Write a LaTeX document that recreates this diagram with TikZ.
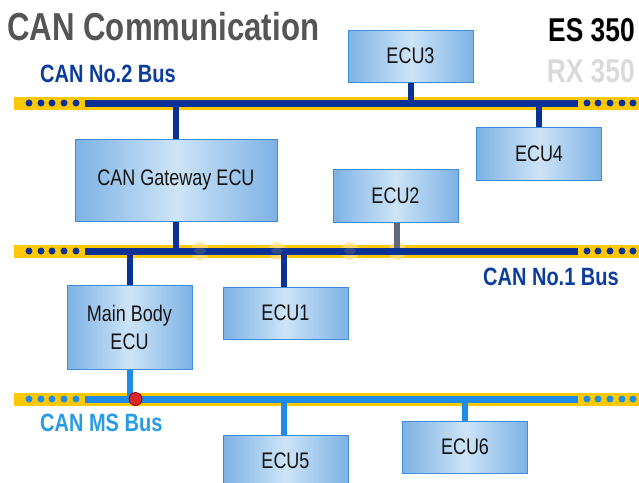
\documentclass[tikz,border=0pt]{standalone}
\usepackage{fontspec}
\setmainfont{Liberation Sans}
\newfontfamily\cond{Liberation Sans}[FakeStretch=0.8]
\definecolor{busyellow}{RGB}{255,200,0}
\definecolor{busdark}{RGB}{10,50,150}
\definecolor{buslight}{RGB}{30,140,230}
\definecolor{boxedge}{RGB}{60,140,225}
\definecolor{boxdark}{RGB}{125,178,228}
\definecolor{boxlight}{RGB}{205,228,247}
\definecolor{titlegray}{RGB}{85,85,85}
\definecolor{labdark}{RGB}{12,60,156}
\definecolor{lablight}{RGB}{40,155,232}
\definecolor{rxgray}{RGB}{218,218,218}
\definecolor{dotred}{RGB}{215,40,40}
\definecolor{fadelink}{RGB}{95,105,125}
\definecolor{glow}{RGB}{255,225,140}
\pgfdeclarelayer{bg}
\pgfsetlayers{bg,main}
\tikzset{
  ecu/.style={draw=boxedge, line width=1pt, left color=boxdark, right color=boxdark, middle color=boxlight,
    minimum width=125, minimum height=52, inner sep=0pt, align=center,
    font=\cond\fontsize{22.5}{26}\selectfont, text=black!92},
  darklink/.style={draw=busdark, line width=6pt},
  lightlink/.style={draw=buslight, line width=6pt},
  buslab/.style={font=\cond\bfseries\fontsize{25}{28}\selectfont, anchor=west, inner sep=0pt},
  busband/.style={fill=busyellow},
}
\begin{document}
\begin{tikzpicture}[x=1pt,y=-1pt]
\useasboundingbox (0,0) rectangle (639,482);
\clip (0,0) rectangle (639,482);
% bus coordinates
\coordinate (b2) at (0,103);
\coordinate (b1) at (0,251);
\coordinate (bm) at (0,399);
% boxes
\node[ecu] (ecu3) at (410.5,56) {ECU3};
\node[ecu, minimum height=53] (ecu4) at (539,153.5) {ECU4};
\node[ecu, minimum width=202, minimum height=82] (gw) at (176,180) {CAN Gateway ECU};
\node[ecu, minimum height=53] (ecu2) at (395.5,195.5) {ECU2};
\node[ecu, minimum height=84] (mb) at (129.5,327) {Main Body\\[2pt]ECU};
\node[ecu] (ecu1) at (285.5,313) {ECU1};
\node[ecu] (ecu5) at (285.5,461) {ECU5};
\node[ecu] (ecu6) at (465,447) {ECU6};
% titles
\node[anchor=west, inner sep=0pt, text=titlegray, font=\cond\bfseries\fontsize{39}{42}\selectfont] (title) at (7,27) {CAN Communication};
\node[anchor=east, inner sep=0pt, text=black, font=\cond\bfseries\fontsize{33}{36}\selectfont] (es) at (635,30) {ES 350};
\node[anchor=east, inner sep=0pt, text=rxgray, font=\cond\bfseries\fontsize{33}{36}\selectfont] (rx) at (635,71) {RX 350};
\node[buslab, text=labdark] (lab2) at (40,74) {CAN No.2 Bus};
\node[buslab, text=labdark] (lab1) at (483,277) {CAN No.1 Bus};
\node[buslab, text=lablight] (labm) at (40,423) {CAN MS Bus};
\begin{pgfonlayer}{bg}
  % yellow bands
  \foreach \c in {b2,b1,bm}{
    \fill[busband] ([yshift=-6.5]\c -| 14,0) rectangle ([yshift=6.5]\c -| 639,0);
  }
  % faint glows on bus 1
  \foreach \x in {200,277,350,397}{
    \fill[glow, opacity=0.7] (b1 -| \x,0) circle (9);
  }
  % connectors
  \draw[darklink] (ecu3.south) -- (ecu3.south |- b2);
  \draw[darklink] (ecu4.north) -- (ecu4.north |- b2);
  \draw[darklink] (gw.north) -- (gw.north |- b2);
  \draw[darklink] (gw.south) -- (gw.south |- b1);
  \draw[draw=fadelink, line width=6pt] ([xshift=1.5]ecu2.south) -- ([xshift=1.5]ecu2.south |- b1);
  \draw[darklink] (mb.north) -- (mb.north |- b1);
  \draw[darklink] ([xshift=-2]ecu1.north) -- ([xshift=-2]ecu1.north |- b1);
  \draw[lightlink] (mb.south) -- (mb.south |- bm);
  \draw[lightlink] ([xshift=-2]ecu5.north) -- ([xshift=-2]ecu5.north |- bm);
  \draw[lightlink] (ecu6.north) -- (ecu6.north |- bm);
  % bus lines and dots
  \foreach \c/\col in {b2/busdark,b1/busdark,bm/buslight}{
    \fill[\col] ([yshift=-3.5]\c -| 85,0) rectangle ([yshift=3.5]\c -| 578,0);
    \foreach \x in {29,41,52,64,76,587,598,610,622,633}{
      \fill[\col] (\c -| \x,0) circle (3.5);
    }
  }
  % faded spots on bus 1
  \foreach \x in {200,277,350}{
    \fill[fadelink, opacity=0.45] (b1 -| \x,0) ellipse (6 and 3);
  }
\end{pgfonlayer}
% junction dot
\coordinate (jd) at ([xshift=6]mb.south |- bm);
\fill[dotred, draw=red!60!black, line width=0.8pt] (jd) circle (6.5);
\end{tikzpicture}
\end{document}
